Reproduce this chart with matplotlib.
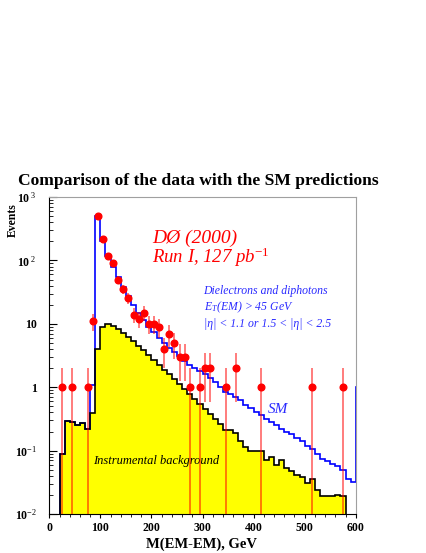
import numpy as np
import matplotlib
matplotlib.use("Agg")
import matplotlib.pyplot as plt
from matplotlib.ticker import FixedLocator, FixedFormatter, LogLocator, NullFormatter

plt.rcParams['font.family'] = ['Liberation Serif', 'DejaVu Serif']
plt.rcParams['mathtext.fontset'] = 'custom'
plt.rcParams['mathtext.rm'] = 'Liberation Serif'
plt.rcParams['mathtext.it'] = 'Liberation Serif:italic'
plt.rcParams['mathtext.bf'] = 'Liberation Serif:bold'

# ---------------- data ----------------
# instrumental background, 10 GeV bins from 20 to 580 GeV
bkg_edges = np.arange(20, 581, 10)
bkg_values = [0.09, 0.29, 0.28, 0.25, 0.27, 0.22, 0.39, 4.0, 8.8, 9.8,
              9.3, 8.3, 7.2, 6.2, 5.3, 4.5, 3.8, 3.2, 2.7, 2.25,
              1.9, 1.6, 1.33, 1.12, 0.93, 0.78, 0.65, 0.55, 0.46, 0.38,
              0.32, 0.26, 0.21, 0.21, 0.19, 0.14, 0.115, 0.10, 0.10, 0.10,
              0.071, 0.080, 0.059, 0.072, 0.053, 0.047, 0.041, 0.038, 0.031, 0.036,
              0.024, 0.019, 0.019, 0.019, 0.020, 0.019]

# SM prediction, 10 GeV bins from 20 GeV (last bin is overflow beyond 600)
sm_edges = np.arange(20, 611, 10)
sm_values = [0.09, 0.29, 0.28, 0.25, 0.27, 0.22, 1.1, 500, 200, 117,
             80, 54, 38, 27, 20, 14.7, 11.5, 9.0, 7.5, 6.0,
             5.0, 4.2, 3.6, 3.1, 2.55, 2.25, 2.0, 1.8, 1.6, 1.4,
             1.2, 1.0, 0.85, 0.78, 0.70, 0.62, 0.53, 0.47, 0.41, 0.36,
             0.32, 0.28, 0.25, 0.22, 0.20, 0.18, 0.16, 0.14, 0.12, 0.105,
             0.09, 0.075, 0.068, 0.062, 0.057, 0.05, 0.036, 0.032, 1.0]

# DØ data (bin centres, event counts)
data_mass = [25, 45, 75, 85, 95, 105, 115, 125, 135, 145, 155, 165, 175, 185,
             195, 205, 215, 225, 235, 245, 255, 265, 275, 295, 305, 315, 345,
             365, 415, 515, 575]
data_counts = [1, 1, 1, 11, 500, 220, 118, 92, 49, 35, 26, 14, 12, 15,
               10, 10, 9, 4, 7, 5, 3, 3, 1, 1, 2, 2, 1,
               2, 1, 1, 1]

x_ticks = [0, 100, 200, 300, 400, 500, 600]
x_tick_labels = ['0', '100', '200', '300', '400', '500', '600']
y_ticks = [1e-2, 1e-1, 1, 10, 1e2, 1e3]
y_tick_labels = ['10$^{-2}$', '10$^{-1}$', '1', '10', '10$^{\\ 2}$', '10$^{\\ 3}$']

# ---------------- figure ----------------
fig = plt.figure(figsize=(4.27, 5.53), dpi=100)
ax = fig.add_axes([0.1155, 0.0705, 0.7176, 0.5732])
ax.set_yscale('log')
ax.set_xlim(0, 600)
ax.set_ylim(1e-2, 1e3)

base = 1e-4
ax.stairs(bkg_values, bkg_edges, baseline=base, fill=True, color='#ffff00', zorder=1)
ax.stairs(sm_values, sm_edges, baseline=base, color='#0000ff', lw=1.2, zorder=2)
ax.stairs(bkg_values, bkg_edges, baseline=base, color='black', lw=1.2, zorder=3)

xm = np.array(data_mass, float)
n = np.array(data_counts, float)
err = np.sqrt(n)
lo = np.maximum(n - err, base)
hi = n + err
ax.vlines(xm, lo, hi, color='#ff0000', lw=1.1, alpha=0.65, zorder=4)
ax.plot(xm, n, 'o', color='#ff0000', ms=4.8, mec='#ff0000', zorder=5)

# axes styling
ax.xaxis.set_major_locator(FixedLocator(x_ticks))
ax.xaxis.set_major_formatter(FixedFormatter(x_tick_labels))
ax.xaxis.set_minor_locator(FixedLocator(np.arange(0, 601, 20)))
ax.yaxis.set_major_locator(FixedLocator(y_ticks))
ax.yaxis.set_major_formatter(FixedFormatter(y_tick_labels))
ax.yaxis.set_minor_locator(LogLocator(base=10, subs=np.arange(2, 10)))
ax.yaxis.set_minor_formatter(NullFormatter())

ax.tick_params(axis='x', which='major', direction='out', length=3, width=0.8,
               labelsize=8.5, pad=3)
ax.tick_params(axis='x', which='minor', direction='out', length=2, width=0.6)
ax.tick_params(axis='y', which='major', direction='in', length=6, width=0.8,
               labelsize=8.5, pad=9)
ax.tick_params(axis='y', which='minor', direction='in', length=3, width=0.6)
for lab in ax.get_xticklabels() + ax.get_yticklabels():
    lab.set_fontweight('bold')

ax.spines['left'].set_color('black')
ax.spines['bottom'].set_color('black')
ax.spines['left'].set_linewidth(0.8)
ax.spines['bottom'].set_linewidth(0.8)
for s in ('top', 'right'):
    ax.spines[s].set_color('#a0a0a0')
    ax.spines[s].set_linewidth(0.8)

# texts
fig.text(198 / 427, 1 - 185 / 553, 'Comparison of the data with the SM predictions',
         ha='center', va='baseline', fontsize=12.6, fontweight='bold')
fig.text(12.5 / 427, 1 - 203 / 553, 'Events', rotation=90, ha='center', va='top',
         fontsize=8.5, fontweight='bold')
fig.text(202 / 427, 1 - 548 / 553, 'M(EM-EM), GeV', ha='center', va='baseline',
         fontsize=10.5, fontweight='bold')

ax.text(202, 190, 'DØ (2000)', color='#ff0000', fontsize=14, style='italic',
        ha='left', va='baseline')
ax.text(202, 90, 'Run I, 127 pb$^{\\mathit{-1}}$', color='#ff0000', fontsize=13.5,
        style='italic', ha='left', va='baseline')

blue_txt = '#2a2aff'
ax.text(302, 29.5, 'Dielectrons and diphotons', color=blue_txt, fontsize=8.5,
        style='italic', ha='left', va='baseline')
ax.text(302, 16.5, 'E$_{\\mathit{T}}$(EM) > 45 GeV', color=blue_txt, fontsize=8.5,
        style='italic', ha='left', va='baseline')
ax.text(302, 9.0, '|η| < 1.1 or 1.5 < |η| < 2.5', color=blue_txt, fontsize=8.5,
        style='italic', ha='left', va='baseline')
ax.text(428, 0.39, 'SM', color=blue_txt, fontsize=11, style='italic',
        ha='left', va='baseline')
ax.text(86, 0.0615, 'Instrumental background', color='black', fontsize=9,
        style='italic', ha='left', va='baseline')

fig.savefig('out.png', dpi=100)
